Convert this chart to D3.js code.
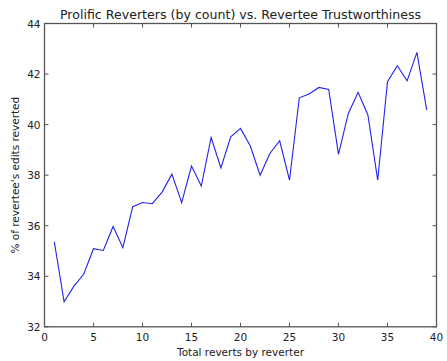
<!DOCTYPE html>
<html>
<head>
<meta charset="utf-8">
<script src="https://cdn.jsdelivr.net/npm/d3@7"></script>
<style>
  html, body { margin: 0; padding: 0; background: #fff; }
  svg text { font-family: "DejaVu Sans", sans-serif; fill: #222; }
</style>
</head>
<body>
<svg id="chart" width="447" height="361"></svg>
<script>
// Total reverts by reverter (x) and % of revertee's edits reverted (y)
const revertCounts = [1,2,3,4,5,6,7,8,9,10,11,12,13,14,15,16,17,18,19,20,
                      21,22,23,24,25,26,27,28,29,30,31,32,33,34,35,36,37,38,39];
const pctReverted = [35.36,32.99,33.61,34.08,35.09,35.02,35.97,35.13,36.75,36.92,
                     36.87,37.33,38.04,36.91,38.36,37.57,39.49,38.29,39.52,39.85,
                     39.15,38.00,38.86,39.36,37.80,41.06,41.21,41.47,41.39,38.82,
                     40.44,41.28,40.38,37.80,41.70,42.33,41.73,42.86,40.58];
const xTicks = [0,5,10,15,20,25,30,35,40];
const yTicks = [32,34,36,38,40,42,44];

const svg = d3.select("#chart");
const m = { left: 44.5, right: 436.5, top: 23.5, bottom: 326.8 };

const x = d3.scaleLinear().domain([0, 40]).range([m.left, m.right]);
const y = d3.scaleLinear().domain([32, 44]).range([m.bottom, m.top]);

const tickLen = 4;
const frameColor = "#555";

// Inward ticks on all four sides
const g = svg.append("g");
g.selectAll(".xb").data(xTicks).join("line")
  .attr("x1", d => x(d)).attr("x2", d => x(d))
  .attr("y1", m.bottom).attr("y2", m.bottom - tickLen)
  .attr("stroke", frameColor).attr("stroke-width", 1);
g.selectAll(".xt").data(xTicks).join("line")
  .attr("x1", d => x(d)).attr("x2", d => x(d))
  .attr("y1", m.top).attr("y2", m.top + tickLen)
  .attr("stroke", frameColor).attr("stroke-width", 1);
g.selectAll(".yl").data(yTicks).join("line")
  .attr("x1", m.left).attr("x2", m.left + tickLen)
  .attr("y1", d => y(d)).attr("y2", d => y(d))
  .attr("stroke", frameColor).attr("stroke-width", 1);
g.selectAll(".yr").data(yTicks).join("line")
  .attr("x1", m.right).attr("x2", m.right - tickLen)
  .attr("y1", d => y(d)).attr("y2", d => y(d))
  .attr("stroke", frameColor).attr("stroke-width", 1);

// Tick labels
g.selectAll(".xlab").data(xTicks).join("text")
  .attr("x", d => x(d)).attr("y", m.bottom + 14)
  .attr("text-anchor", "middle").attr("font-size", 10.5)
  .text(d => d);
g.selectAll(".ylab").data(yTicks).join("text")
  .attr("x", m.left - 4).attr("y", d => y(d) + 4)
  .attr("text-anchor", "end").attr("font-size", 10.5)
  .text(d => d);

// Data line
const line = d3.line()
  .x((d, i) => x(revertCounts[i]))
  .y(d => y(d));
svg.append("path")
  .datum(pctReverted)
  .attr("fill", "none")
  .attr("stroke", "#2222ee")
  .attr("stroke-width", 1.1)
  .attr("stroke-linejoin", "miter")
  .attr("d", line);

// Axes frame
svg.append("rect")
  .attr("x", m.left).attr("y", m.top)
  .attr("width", m.right - m.left).attr("height", m.bottom - m.top)
  .attr("fill", "none").attr("stroke", frameColor).attr("stroke-width", 1.3);

// Title and axis labels
svg.append("text")
  .attr("x", 240.5).attr("y", 18.5)
  .attr("text-anchor", "middle").attr("font-size", 12.6)
  .text("Prolific Reverters (by count) vs. Revertee Trustworthiness");
svg.append("text")
  .attr("x", (m.left + m.right) / 2).attr("y", 356)
  .attr("text-anchor", "middle").attr("font-size", 10.5)
  .text("Total reverts by reverter");
svg.append("text")
  .attr("transform", `translate(19,${(m.top + m.bottom) / 2}) rotate(-90)`)
  .attr("text-anchor", "middle").attr("font-size", 10.5)
  .text("% of revertee's edits reverted");
</script>
</body>
</html>
